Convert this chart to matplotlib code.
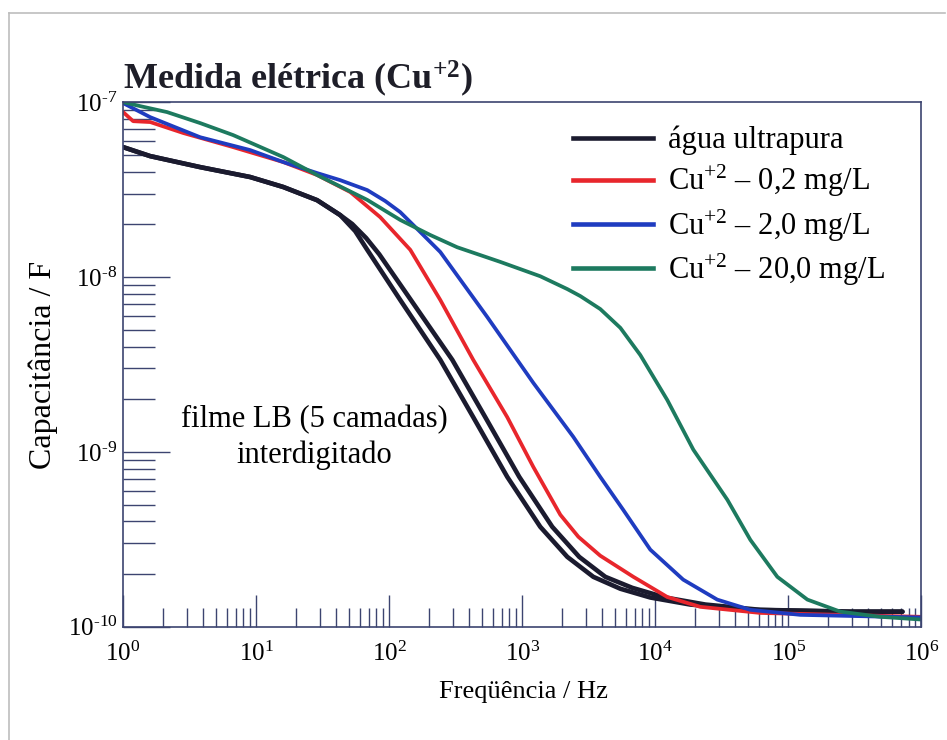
import matplotlib
matplotlib.use("Agg")
import matplotlib.pyplot as plt
from matplotlib.lines import Line2D
from matplotlib.ticker import FixedLocator, FuncFormatter, NullFormatter
import numpy as np

plt.rcParams["font.family"] = ["Liberation Serif", "DejaVu Serif"]
plt.rcParams["mathtext.fontset"] = "custom"
plt.rcParams["mathtext.rm"] = "Liberation Serif"
plt.rcParams["mathtext.it"] = "Liberation Serif:italic"
plt.rcParams["mathtext.bf"] = "Liberation Serif:bold"

# Data (frequency in Hz, capacitance in F)
# two runs of the pure-water sample, both drawn in black
agua_a_freq = [1.0, 1.6, 3.79, 9.01, 16.0, 28.7, 42.8, 55.5, 68.4, 121, 242,
               428, 771, 1365, 2180, 3420, 5460, 9170, 18300, 51800, 292000,
               720000]
agua_a_cap = [5.53e-8, 4.91e-8, 4.25e-8, 3.73e-8, 3.27e-8, 2.75e-8, 2.26e-8,
              1.83e-8, 1.43e-8, 7.39e-9, 3.36e-9, 1.58e-9, 7.2e-10, 3.73e-10,
              2.51e-10, 1.93e-10, 1.65e-10, 1.47e-10, 1.34e-10, 1.25e-10,
              1.22e-10, 1.22e-10]

agua_b_freq = [1.0, 1.6, 3.79, 9.01, 16.0, 28.7, 42.8, 52.7, 67.1, 84.1, 149,
               298, 527, 949, 1680, 2680, 4210, 6710, 11900, 23800, 61500,
               292000, 720000]
agua_b_cap = [5.53e-8, 4.91e-8, 4.25e-8, 3.73e-8, 3.27e-8, 2.75e-8, 2.26e-8,
              2.01e-8, 1.67e-8, 1.35e-8, 7.2e-9, 3.36e-9, 1.58e-9, 7.2e-10,
              3.73e-10, 2.51e-10, 1.93e-10, 1.67e-10, 1.47e-10, 1.34e-10,
              1.25e-10, 1.22e-10, 1.22e-10]

cu02_freq = [1.0, 1.19, 1.6, 2.83, 6.71, 16.0, 28.7, 51, 85.5, 144, 242, 428,
             771, 1211, 1932, 2640, 3855, 6840, 12300, 21790, 61500, 1000000]
cu02_cap = [8.77e-8, 7.78e-8, 7.69e-8, 6.66e-8, 5.53e-8, 4.54e-8, 3.83e-8,
            3.06e-8, 2.2e-8, 1.43e-8, 7.39e-9, 3.36e-9, 1.58e-9, 8.2e-10,
            4.37e-10, 3.27e-10, 2.55e-10, 1.93e-10, 1.48e-10, 1.3e-10,
            1.2e-10, 1.14e-10]

cu2_freq = [1.0, 1.6, 3.79, 9.0, 16.0, 28.7, 42.8, 68.4, 93.3, 121, 171, 242,
            546, 1211, 2417, 3855, 5740, 9170, 16200, 29200, 51800, 123000,
            1000000]
cu2_cap = [9.87e-8, 8.2e-8, 6.3e-8, 5.32e-8, 4.54e-8, 3.93e-8, 3.58e-8,
           3.14e-8, 2.72e-8, 2.35e-8, 1.81e-8, 1.39e-8, 5.9e-9, 2.48e-9,
           1.22e-9, 7.2e-10, 4.66e-10, 2.76e-10, 1.86e-10, 1.43e-10,
           1.25e-10, 1.17e-10, 1.13e-10]

cu20_freq = [1.0, 1.34, 2.14, 3.79, 6.71, 16.0, 28.7, 68.4, 121, 203, 324,
             684, 1365, 2180, 2730, 3855, 5460, 7710, 12300, 19300, 34800,
             51800, 82600, 139000, 246000, 492000, 1000000]
cu20_cap = [1.0e-7, 9.49e-8, 8.77e-8, 7.59e-8, 6.48e-8, 4.85e-8, 3.83e-8,
            2.76e-8, 2.12e-8, 1.74e-8, 1.48e-8, 1.22e-8, 1.01e-8, 8.53e-9,
            7.78e-9, 6.56e-9, 5.12e-9, 3.58e-9, 1.98e-9, 1.03e-9, 5.32e-10,
            3.14e-10, 1.93e-10, 1.43e-10, 1.22e-10, 1.14e-10, 1.1e-10]

labels = ["água ultrapura",
          "Cu$^{+2}$ – 0,2 mg/L",
          "Cu$^{+2}$ – 2,0 mg/L",
          "Cu$^{+2}$ – 20,0 mg/L"]
colors = ["#1b1b2f", "#e8262c", "#1f3cc0", "#1d7a5f"]
axis_color = "#3c4470"

# decades shown on each axis
x_decades = list(range(0, 7))
y_decades = list(range(-10, -6))

fig = plt.figure(figsize=(9.47, 7.4), dpi=100)

# light frame around the whole page
fig.add_artist(Line2D([0.009, 0.009], [0, 0.983], color="#bdbdbd", lw=1.2))
fig.add_artist(Line2D([0.009, 0.998], [0.983, 0.983], color="#bdbdbd", lw=1.2))

ax = fig.add_axes((0.130, 0.153, 0.843, 0.709))

line_kw = dict(solid_joinstyle="round", solid_capstyle="round")
ax.plot(agua_a_freq, agua_a_cap, color=colors[0], lw=3.3, **line_kw)
ax.plot(agua_b_freq, agua_b_cap, color=colors[0], lw=3.3, **line_kw)
ax.plot(cu02_freq, cu02_cap, color=colors[1], lw=2.7, **line_kw)
ax.plot(cu2_freq, cu2_cap, color=colors[2], lw=2.7, **line_kw)
ax.plot(cu20_freq, cu20_cap, color=colors[3], lw=2.7, **line_kw)

ax.set_xscale("log")
ax.set_yscale("log")
ax.set_xlim(10.0 ** x_decades[0], 10.0 ** x_decades[-1])
ax.set_ylim(10.0 ** y_decades[0], 10.0 ** y_decades[-1])

for side in ["left", "bottom", "top", "right"]:
    ax.spines[side].set_color(axis_color)
    ax.spines[side].set_linewidth(1.2)


def minor_positions(decades):
    return [m * 10.0 ** d for d in decades[:-1] for m in range(2, 10)]


ax.xaxis.set_major_locator(FixedLocator([10.0 ** d for d in x_decades]))
ax.yaxis.set_major_locator(FixedLocator([10.0 ** d for d in y_decades]))
ax.xaxis.set_minor_locator(FixedLocator(minor_positions(x_decades)))
ax.yaxis.set_minor_locator(FixedLocator(minor_positions(y_decades)))


def exp_label(v, pos):
    e = int(round(np.log10(v)))
    if e < 0:
        return r"$10^{\text{-%d}}$" % (-e)
    return r"$10^{%d}$" % e


ax.xaxis.set_major_formatter(FuncFormatter(exp_label))
ax.yaxis.set_major_formatter(FuncFormatter(exp_label))
ax.xaxis.set_minor_formatter(NullFormatter())
ax.yaxis.set_minor_formatter(NullFormatter())

ax.tick_params(axis="both", which="both", direction="in", color=axis_color,
               top=False, right=False, width=1.0)
ax.tick_params(axis="x", which="major", length=23, pad=11, labelsize=18)
ax.tick_params(axis="x", which="minor", length=14)
ax.tick_params(axis="y", which="major", length=34, pad=4, labelsize=18)
ax.tick_params(axis="y", which="minor", length=23)

ax.set_xlabel("Freqüência / Hz", fontsize=19)
ax.set_ylabel("Capacitância / F", fontsize=23)
ax.xaxis.set_label_coords(0.502, -0.104)
ax.yaxis.set_label_coords(-0.082, 0.5)

fig.text(0.130, 0.879, r"Medida elétrica (Cu$^{\mathbf{+2}}$)", fontsize=26,
         fontweight="bold", color="#1e1e28", ha="left", va="baseline")

handles = [Line2D([], [], color=c, lw=3.3) for c in colors]
ax.legend(handles, labels, loc="upper left", bbox_to_anchor=(0.564, 0.955),
          frameon=False, fontsize=22, handlelength=2.6, handletextpad=0.5,
          labelspacing=0.26, borderpad=0, borderaxespad=0)

ax.text(0.239, 0.361, "filme LB (5 camadas)\ninterdigitado", transform=ax.transAxes,
        ha="center", va="center", fontsize=22, linespacing=1.3)

fig.savefig("out.png", dpi=100)
